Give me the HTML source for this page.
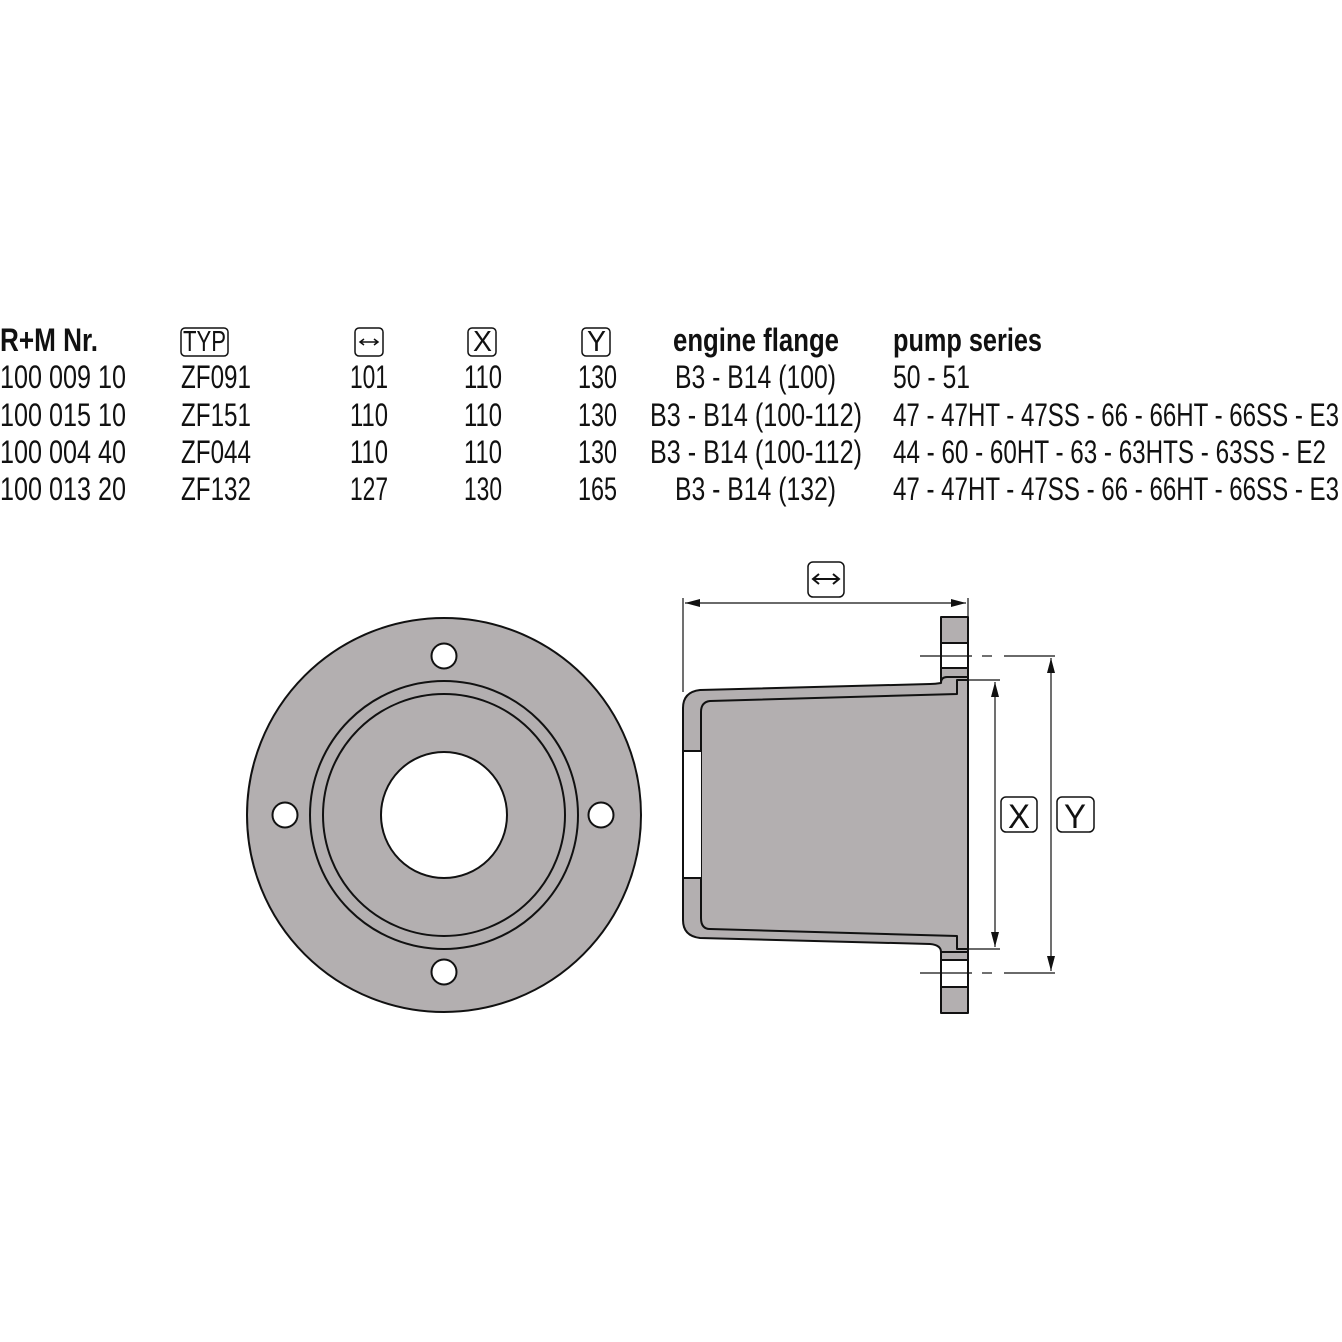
<!DOCTYPE html>
<html><head><meta charset="utf-8"><style>html,body{margin:0;padding:0;background:#fff}svg{display:block}</style></head>
<body>
<svg width="1342" height="1342" viewBox="0 0 1342 1342" xmlns="http://www.w3.org/2000/svg" font-family="Liberation Sans, sans-serif">
<g font-size="32" fill="#111">
<text x="0" y="351" font-weight="bold" textLength="98" lengthAdjust="spacingAndGlyphs">R+M Nr.</text>
<text x="673" y="351" font-weight="bold" textLength="166" lengthAdjust="spacingAndGlyphs">engine flange</text>
<text x="893" y="351" font-weight="bold" textLength="149" lengthAdjust="spacingAndGlyphs">pump series</text>
<text x="183" y="351" textLength="43" lengthAdjust="spacingAndGlyphs" font-size="29">TYP</text>
<text x="473" y="351" textLength="19" lengthAdjust="spacingAndGlyphs" font-size="29">X</text>
<text x="587" y="351" textLength="19" lengthAdjust="spacingAndGlyphs" font-size="29">Y</text>

<text x="0" y="388" textLength="126" lengthAdjust="spacingAndGlyphs">100 009 10</text>
<text x="0" y="426" textLength="126" lengthAdjust="spacingAndGlyphs">100 015 10</text>
<text x="0" y="463" textLength="126" lengthAdjust="spacingAndGlyphs">100 004 40</text>
<text x="0" y="500" textLength="126" lengthAdjust="spacingAndGlyphs">100 013 20</text>
<text x="181" y="388" textLength="70" lengthAdjust="spacingAndGlyphs">ZF091</text>
<text x="181" y="426" textLength="70" lengthAdjust="spacingAndGlyphs">ZF151</text>
<text x="181" y="463" textLength="70" lengthAdjust="spacingAndGlyphs">ZF044</text>
<text x="181" y="500" textLength="70" lengthAdjust="spacingAndGlyphs">ZF132</text>
<g>
<text x="350" y="388" textLength="38" lengthAdjust="spacingAndGlyphs">101</text><text x="350" y="426" textLength="38" lengthAdjust="spacingAndGlyphs">110</text><text x="350" y="463" textLength="38" lengthAdjust="spacingAndGlyphs">110</text><text x="350" y="500" textLength="38" lengthAdjust="spacingAndGlyphs">127</text>
<text x="464" y="388" textLength="38" lengthAdjust="spacingAndGlyphs">110</text><text x="464" y="426" textLength="38" lengthAdjust="spacingAndGlyphs">110</text><text x="464" y="463" textLength="38" lengthAdjust="spacingAndGlyphs">110</text><text x="464" y="500" textLength="38" lengthAdjust="spacingAndGlyphs">130</text>
<text x="578" y="388" textLength="39" lengthAdjust="spacingAndGlyphs">130</text><text x="578" y="426" textLength="39" lengthAdjust="spacingAndGlyphs">130</text><text x="578" y="463" textLength="39" lengthAdjust="spacingAndGlyphs">130</text><text x="578" y="500" textLength="39" lengthAdjust="spacingAndGlyphs">165</text>
</g>
<text x="675" y="388" textLength="161" lengthAdjust="spacingAndGlyphs">B3 - B14 (100)</text>
<text x="650" y="426" textLength="212" lengthAdjust="spacingAndGlyphs">B3 - B14 (100-112)</text>
<text x="650" y="463" textLength="212" lengthAdjust="spacingAndGlyphs">B3 - B14 (100-112)</text>
<text x="675" y="500" textLength="161" lengthAdjust="spacingAndGlyphs">B3 - B14 (132)</text>
<text x="893" y="388" textLength="77" lengthAdjust="spacingAndGlyphs">50 - 51</text>
<text x="893" y="426" textLength="446" lengthAdjust="spacingAndGlyphs">47 - 47HT - 47SS - 66 - 66HT - 66SS - E3</text>
<text x="893" y="463" textLength="433" lengthAdjust="spacingAndGlyphs">44 - 60 - 60HT - 63 - 63HTS - 63SS - E2</text>
<text x="893" y="500" textLength="446" lengthAdjust="spacingAndGlyphs">47 - 47HT - 47SS - 66 - 66HT - 66SS - E3</text>
</g>
<g fill="none" stroke="#111" stroke-width="1.5">
<rect x="181" y="328" width="47" height="28" rx="4"/>
<rect x="355" y="328" width="28" height="28" rx="4"/>
<rect x="468" y="328" width="28" height="28" rx="4"/>
<rect x="582" y="328" width="28" height="28" rx="4"/>
<path d="M361 342 H377 M364 339 L360 342 L364 345 M374 339 L378 342 L374 345"/>
</g>

<!-- front view -->
<g stroke="#111" stroke-width="2">
<circle cx="444" cy="815" r="197" fill="#b3afb0"/>
<circle cx="444" cy="815" r="134" fill="none"/>
<circle cx="444" cy="815" r="121" fill="none"/>
<circle cx="444" cy="815" r="63" fill="#fff"/>
<circle cx="444" cy="656" r="12.5" fill="#fff"/>
<circle cx="444" cy="972" r="12.5" fill="#fff"/>
<circle cx="285" cy="815" r="12.5" fill="#fff"/>
<circle cx="601" cy="815" r="12.5" fill="#fff"/>
</g>

<!-- side view -->
<g stroke="#111" stroke-width="2" stroke-linejoin="round">
<rect x="941" y="617" width="27" height="396" fill="#b3afb0"/>
<path d="M968 677 L947 677 Q941 677 941 683 Q935 684 930 684 L700 690 Q683 692 683 708 L683 920 Q683 936 700 938 L930 944 Q941 945 941 952 L968 952 Z" fill="#b3afb0"/>
<path d="M968 680 L957 680 L957 694 L710 701 Q701 702 701 712 L701 918 Q701 929 710 929 L957 936 L957 949 L968 949 Z" fill="#b3afb0"/>
<rect x="941" y="643" width="27" height="25" fill="#fff"/>
<rect x="941" y="960" width="27" height="27" fill="#fff"/>
<rect x="684" y="751" width="17" height="127" fill="#fff" stroke="none"/>
<line x1="683" y1="751" x2="701" y2="751"/>
<line x1="683" y1="878" x2="701" y2="878"/>
</g>
<g stroke="#111" stroke-width="1.2" fill="none">
<line x1="683" y1="598" x2="683" y2="692"/>
<line x1="968" y1="598" x2="968" y2="617"/>
<line x1="685" y1="603" x2="966" y2="603"/>
<line x1="920" y1="656" x2="972" y2="656"/><line x1="982" y1="656" x2="992" y2="656"/><line x1="1004" y1="656" x2="1055" y2="656"/>
<line x1="920" y1="973" x2="972" y2="973"/><line x1="982" y1="973" x2="992" y2="973"/><line x1="1004" y1="973" x2="1055" y2="973"/>
<line x1="968" y1="680" x2="1000" y2="680"/><line x1="968" y1="949" x2="1000" y2="949"/>
<line x1="995" y1="682" x2="995" y2="947"/>
<line x1="1051" y1="658" x2="1051" y2="971"/>
<rect x="808" y="562" width="36" height="35" rx="5" stroke-width="1.5"/>
<rect x="1001" y="797" width="36" height="35" rx="5" stroke-width="1.5"/>
<rect x="1057" y="797" width="37" height="35" rx="5" stroke-width="1.5"/>
<path d="M814 579 H838 M819 574 L813 579 L819 584 M833 574 L839 579 L833 584" stroke-width="2"/>
</g>
<g fill="#111">
<path d="M685 603 L700 599 L700 607 Z"/><path d="M966 603 L951 599 L951 607 Z"/>
<path d="M995 682 L991 697 L999 697 Z"/><path d="M995 947 L991 932 L999 932 Z"/>
<path d="M1051 658 L1047 673 L1055 673 Z"/><path d="M1051 971 L1047 956 L1055 956 Z"/>
</g>
<text x="1019" y="828" text-anchor="middle" font-size="34" fill="#111" textLength="22" lengthAdjust="spacingAndGlyphs">X</text>
<text x="1075" y="828" text-anchor="middle" font-size="34" fill="#111" textLength="22" lengthAdjust="spacingAndGlyphs">Y</text>
</svg>
</body></html>
